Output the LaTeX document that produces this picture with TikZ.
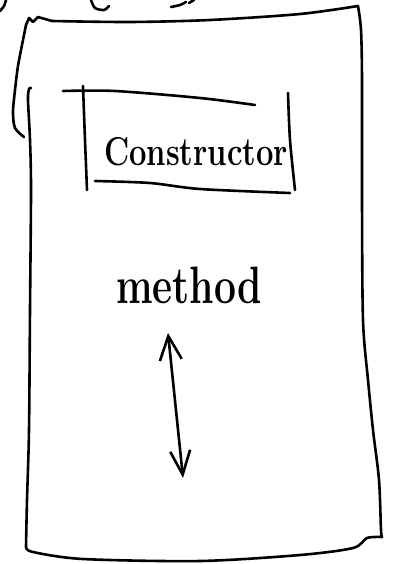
\documentclass[tikz,border=0pt]{standalone}
\usetikzlibrary{arrows.meta}
\begin{document}
\begin{tikzpicture}[x=1pt,y=-1pt,
  ink/.style={draw=black,line width=2.6pt,line cap=round,line join=round},
  label/.style={inner sep=0pt,text=black},
  dblarrow/.style={ink,{Straight Barb[length=24pt,width=22pt,line width=2.6pt]}-{Straight Barb[length=24pt,width=20pt,line width=2.6pt]}}]
\useasboundingbox[fill=white] (0,0) rectangle (395,564);
% fragments of cut-off writing at the top
\draw[ink] plot[smooth] coordinates {(0,11) (4,6) (6,0)};
\draw[ink] plot[smooth] coordinates {(91,0) (95,8) (104,10) (109,6)};
\draw[ink] plot[smooth] coordinates {(171,7) (180,5) (186,2)};
\draw[ink] (189,3) -- (194,0);
% outer box
\draw[ink] plot[smooth,tension=0.5] coordinates {(24,137) (15,128) (13,112) (15,90) (18,66) (23,40) (26,25)};
\draw[ink] (26,25) -- (29,18) -- (33,22) -- (38,17) -- (52,21);
\draw[ink] plot[smooth,tension=0.5] coordinates {(52,21) (130,22) (210,20) (300,14) (358,6)};
\draw[ink] plot[smooth,tension=0.5] coordinates {(358,6) (361,30) (362,80) (362,200) (363,320) (368,380) (373,430) (379,480) (381,530) (382,537)};
\draw[ink] plot[smooth,tension=0.5] coordinates {(382,537) (367,538) (353,548) (300,555) (200,561) (83,559) (33,552) (26,547)};
\draw[ink] plot[smooth,tension=0.5] coordinates {(26,547) (27,500) (29,430) (30,310) (31,190) (30,140) (28,100) (29,89) (31,88)};
% constructor box
\draw[ink] plot[smooth,tension=0.5] coordinates {(63,91) (115,91) (200,98) (255,105)};
\draw[ink] plot[smooth,tension=0.5] coordinates {(83,86) (85,140) (87,190)};
\draw[ink] plot[smooth,tension=0.5] coordinates {(95,181) (150,183) (200,189) (290,193)};
\draw[ink] plot[smooth,tension=0.5] coordinates {(288,93) (290,140) (295,190)};
% texts
\node[label,font=\fontsize{31}{31}\selectfont\bfseries,yscale=1.3] (ctor) at (196,152) {Constructor};
\node[label,font=\fontsize{39}{39}\selectfont\bfseries,yscale=1.35] (meth) at (189,285) {method};
% double arrow
\coordinate (up) at (168,333);
\coordinate (dn) at (183,478);
\draw[dblarrow] (up) -- (dn);
\end{tikzpicture}
\end{document}
